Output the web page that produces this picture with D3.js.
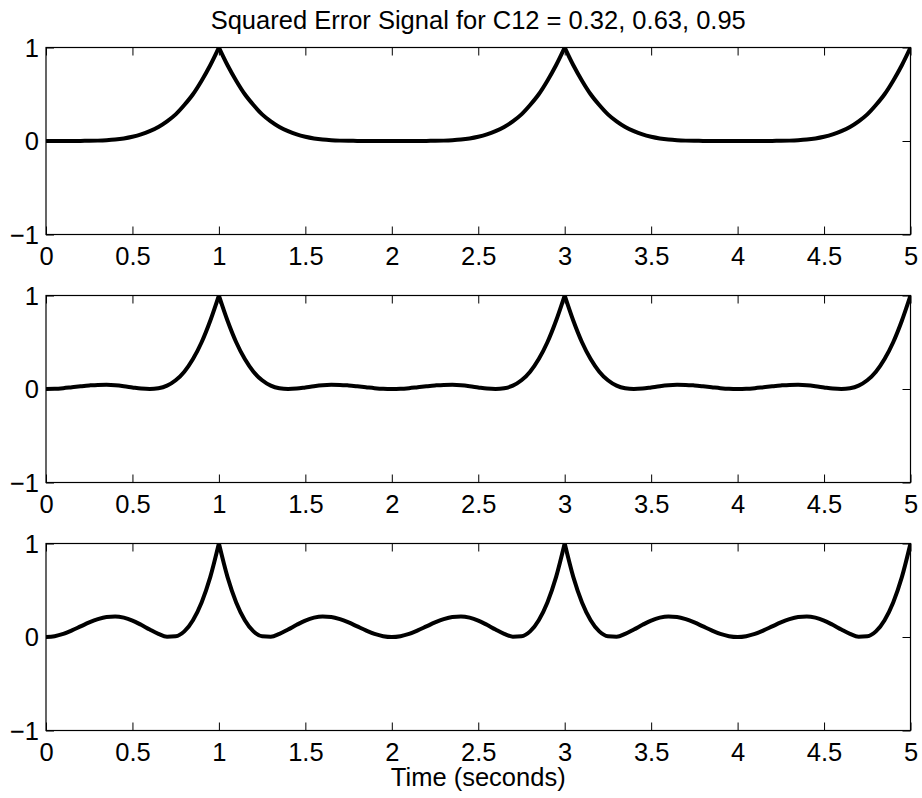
<!DOCTYPE html>
<html>
<head>
<meta charset="utf-8">
<script src="https://cdn.jsdelivr.net/npm/d3@7"></script>
<style>
  body { margin: 0; background: #fff; }
  svg { display: block; }
</style>
</head>
<body>
<svg id="chart" width="922" height="798"></svg>
<script>
// ---------------- data ----------------
const titleText = "Squared Error Signal for C12 = 0.32, 0.63, 0.95";
const xLabelText = "Time (seconds)";
const c12Values = [0.32, 0.63, 0.95];

const xTickValues = [0, 0.5, 1, 1.5, 2, 2.5, 3, 3.5, 4, 4.5, 5];
const xTickLabels = ["0", "0.5", "1", "1.5", "2", "2.5", "3", "3.5", "4", "4.5", "5"];
const yTickValues = [-1, 0, 1];
const yTickLabels = ["\u22121", "0", "1"];

const cuspTimes = [1, 3, 5];
const sampleStep = 0.05;   // samples at t = 0, 0.05, ..., 5

// squared error, C12 = 0.32
const errorC032 = [
  0, 0, 0, 0, 0.001, 0.002, 0.004, 0.008, 0.015, 0.027, 0.045, 0.07, 0.105, 0.15, 0.21, 0.285, 0.385, 0.5, 0.645, 0.81, 1,
  0.81, 0.645, 0.5, 0.385, 0.285, 0.21, 0.15, 0.105, 0.07, 0.045, 0.027, 0.015, 0.008, 0.004, 0.002, 0.001, 0, 0, 0, 0,
  0, 0, 0, 0.001, 0.002, 0.004, 0.008, 0.015, 0.027, 0.045, 0.07, 0.105, 0.15, 0.21, 0.285, 0.385, 0.5, 0.645, 0.81, 1,
  0.81, 0.645, 0.5, 0.385, 0.285, 0.21, 0.15, 0.105, 0.07, 0.045, 0.027, 0.015, 0.008, 0.004, 0.002, 0.001, 0, 0, 0, 0,
  0, 0, 0, 0.001, 0.002, 0.004, 0.008, 0.015, 0.027, 0.045, 0.07, 0.105, 0.15, 0.21, 0.285, 0.385, 0.5, 0.645, 0.81, 1
];

// squared error, C12 = 0.63
const errorC063 = [
  0, 0.002, 0.009, 0.019, 0.029, 0.038, 0.044, 0.045, 0.04, 0.03, 0.017, 0.005, 0, 0.008, 0.036, 0.093, 0.185, 0.32, 0.5, 0.73, 1,
  0.73, 0.5, 0.32, 0.185, 0.093, 0.036, 0.008, 0, 0.005, 0.017, 0.03, 0.04, 0.045, 0.044, 0.038, 0.029, 0.019, 0.009, 0.002, 0,
  0.002, 0.009, 0.019, 0.029, 0.038, 0.044, 0.045, 0.04, 0.03, 0.017, 0.005, 0, 0.008, 0.036, 0.093, 0.185, 0.32, 0.5, 0.73, 1,
  0.73, 0.5, 0.32, 0.185, 0.093, 0.036, 0.008, 0, 0.005, 0.017, 0.03, 0.04, 0.045, 0.044, 0.038, 0.029, 0.019, 0.009, 0.002, 0,
  0.002, 0.009, 0.019, 0.029, 0.038, 0.044, 0.045, 0.04, 0.03, 0.017, 0.005, 0, 0.008, 0.036, 0.093, 0.185, 0.32, 0.5, 0.73, 1
];

// squared error, C12 = 0.95
const errorC095 = [
  0, 0.009, 0.033, 0.07, 0.113, 0.156, 0.192, 0.215, 0.22, 0.207, 0.176, 0.13, 0.08, 0.034, 0.004, 0.008, 0.06, 0.18, 0.37, 0.64, 1,
  0.64, 0.37, 0.18, 0.06, 0.008, 0.004, 0.034, 0.08, 0.13, 0.176, 0.207, 0.22, 0.215, 0.192, 0.156, 0.113, 0.07, 0.033, 0.009, 0,
  0.009, 0.033, 0.07, 0.113, 0.156, 0.192, 0.215, 0.22, 0.207, 0.176, 0.13, 0.08, 0.034, 0.004, 0.008, 0.06, 0.18, 0.37, 0.64, 1,
  0.64, 0.37, 0.18, 0.06, 0.008, 0.004, 0.034, 0.08, 0.13, 0.176, 0.207, 0.22, 0.215, 0.192, 0.156, 0.113, 0.07, 0.033, 0.009, 0,
  0.009, 0.033, 0.07, 0.113, 0.156, 0.192, 0.215, 0.22, 0.207, 0.176, 0.13, 0.08, 0.034, 0.004, 0.008, 0.06, 0.18, 0.37, 0.64, 1
];

const seriesList = [errorC032, errorC063, errorC095];

// ---------------- layout ----------------
const FONT = '"Liberation Sans", Arial, Helvetica, sans-serif';
const FS = 25.5;
const plotLeft = 46, plotRight = 910.5;
const panelTops = [47.5, 295.5, 543.5];
const panelHeight = 187;
const tickLen = 8;

const svg = d3.select("#chart");
svg.append("rect").attr("width", 922).attr("height", 798).attr("fill", "#fff");

const x = d3.scaleLinear().domain([0, 5]).range([plotLeft, plotRight]);

seriesList.forEach((series, p) => {
  const top = panelTops[p];
  const bottom = top + panelHeight;
  const y = d3.scaleLinear().domain([-1, 1]).range([bottom, top]);
  const g = svg.append("g");

  const clipId = "clip" + p;
  svg.append("clipPath").attr("id", clipId)
    .append("rect").attr("x", plotLeft).attr("y", top)
    .attr("width", plotRight - plotLeft).attr("height", panelHeight);

  // data points
  const pts = series.map((v, i) => ({ t: +(i * sampleStep).toFixed(4), v }));
  // split into smooth pieces at the cusps
  const pieces = [];
  let cur = [];
  pts.forEach(d => {
    cur.push(d);
    if (cuspTimes.includes(d.t)) { pieces.push(cur); cur = [d]; }
  });
  if (cur.length > 1) pieces.push(cur);

  const line = d3.line().x(d => x(d.t)).y(d => y(d.v)).curve(d3.curveMonotoneX);
  const lineG = g.append("g").attr("clip-path", `url(#${clipId})`);
  pieces.forEach(pc => {
    lineG.append("path").attr("d", line(pc))
      .attr("fill", "none").attr("stroke", "#000")
      .attr("stroke-width", 4).attr("stroke-linecap", "round").attr("stroke-linejoin", "round");
  });

  // axes
  const axB = d3.axisBottom(x).tickValues(xTickValues)
    .tickFormat((d, i) => xTickLabels[i]).tickSizeInner(-tickLen).tickSizeOuter(0).tickPadding(12);
  const axT = d3.axisTop(x).tickValues(xTickValues).tickFormat("").tickSizeInner(-tickLen).tickSizeOuter(0);
  const axL = d3.axisLeft(y).tickValues(yTickValues)
    .tickFormat((d, i) => yTickLabels[i]).tickSizeInner(-tickLen).tickSizeOuter(0).tickPadding(7);
  const axR = d3.axisRight(y).tickValues(yTickValues).tickFormat("").tickSizeInner(-tickLen).tickSizeOuter(0);

  const gb = g.append("g").attr("transform", `translate(0,${bottom})`).call(axB);
  const gt = g.append("g").attr("transform", `translate(0,${top})`).call(axT);
  const gl = g.append("g").attr("transform", `translate(${plotLeft},0)`).call(axL);
  const gr = g.append("g").attr("transform", `translate(${plotRight},0)`).call(axR);
  [gb, gt, gl, gr].forEach(a => {
    a.attr("font-family", FONT).attr("font-size", FS);
    a.select(".domain").remove();
    a.selectAll(".tick line").attr("stroke", "#000").attr("stroke-width", 1);
    a.selectAll(".tick text").attr("fill", "#000");
  });
  gl.selectAll(".tick text").attr("dy", "0.35em");

  // box
  g.append("rect").attr("x", plotLeft).attr("y", top)
    .attr("width", plotRight - plotLeft).attr("height", panelHeight)
    .attr("fill", "none").attr("stroke", "#000").attr("stroke-width", 1.2);
});

svg.append("text").attr("x", (plotLeft + plotRight) / 2).attr("y", 28.5)
  .attr("text-anchor", "middle").attr("font-family", FONT).attr("font-size", FS)
  .attr("fill", "#000").text(titleText);

svg.append("text").attr("x", (plotLeft + plotRight) / 2).attr("y", 786)
  .attr("text-anchor", "middle").attr("font-family", FONT).attr("font-size", FS)
  .attr("fill", "#000").text(xLabelText);
</script>
</body>
</html>
